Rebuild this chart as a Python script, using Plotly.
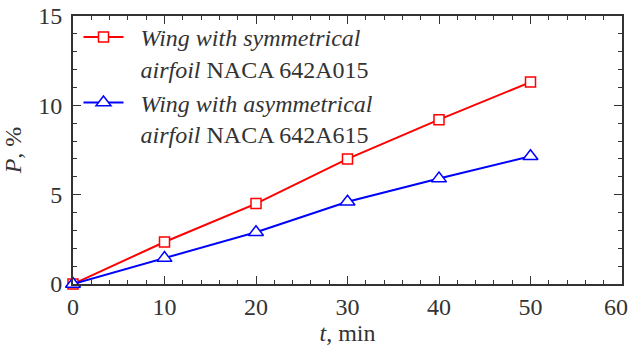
import plotly.graph_objects as go

t_min = [0, 10, 20, 30, 40, 50]
p_sym = [0, 2.35, 4.5, 7.0, 9.2, 11.3]
p_asym = [0, 1.45, 2.9, 4.6, 5.9, 7.15]

x_tickvals = [0, 10, 20, 30, 40, 50, 60]
x_ticktext = ["0", "10", "20", "30", "40", "50", "60\u00a0\u00a0"]

SP = "\u00a0\u00a0"
name_sym = SP + "<i>Wing with symmetrical</i><br>" + SP + "<i>airfoil</i> NACA 642A015"
name_asym = SP + "<i>Wing with asymmetrical</i><br>" + SP + "<i>airfoil</i> NACA 642A615"

FONT = "Liberation Serif"
AX = "#333333"

fig = go.Figure()
fig.add_trace(go.Scatter(
    x=t_min, y=p_sym, mode="lines+markers", name=name_sym,
    line=dict(color="#ff0000", width=2),
    marker=dict(symbol="square", size=10, color="white", line=dict(color="#ff0000", width=1.5)),
    cliponaxis=False,
))
fig.add_trace(go.Scatter(
    x=t_min, y=p_asym, mode="lines+markers", name=name_asym,
    line=dict(color="#0000ff", width=2),
    marker=dict(symbol="triangle-up", size=13, color="white", line=dict(color="#0000ff", width=1.5)),
    cliponaxis=False,
))

axis_common = dict(
    showline=True, linecolor=AX, linewidth=2, mirror="ticks",
    ticks="inside", ticklen=8, tickwidth=1.2, tickcolor=AX,
    showgrid=False, zeroline=False, automargin=False,
    ticklabeloverflow="allow",
    tickfont=dict(family=FONT, size=24, color=AX),
)

fig.update_xaxes(range=[0, 60], tickmode="array", tickvals=x_tickvals, ticktext=x_ticktext,
                 minor=dict(ticks="inside", ticklen=4, dtick=2, tick0=0, tickcolor=AX, tickwidth=1),
                 title=dict(text="<i>t</i>, min", font=dict(family=FONT, size=24, color=AX), standoff=0),
                 **axis_common)
fig.update_yaxes(range=[0, 15], dtick=5, tick0=0, ticklabelstandoff=4,
                 minor=dict(ticks="inside", ticklen=4, dtick=1, tickcolor=AX, tickwidth=1),
                 title=dict(text="<i>P</i>, %", font=dict(family=FONT, size=24, color=AX), standoff=10),
                 **axis_common)

fig.update_layout(
    width=629, height=348,
    margin=dict(l=73, r=7, t=16, b=64),
    paper_bgcolor="white", plot_bgcolor="white",
    font=dict(family=FONT, color=AX),
    legend=dict(x=0.01, y=1.004, xanchor="left", yanchor="top",
                valign="top", bgcolor="rgba(0,0,0,0)",
                font=dict(family=FONT, size=24, color=AX),
                tracegroupgap=0, itemwidth=40),
    showlegend=True,
)

fig.write_html("out.html", config={"displayModeBar": False},
               post_script="document.body.style.margin='0';document.body.style.overflow='hidden';")
